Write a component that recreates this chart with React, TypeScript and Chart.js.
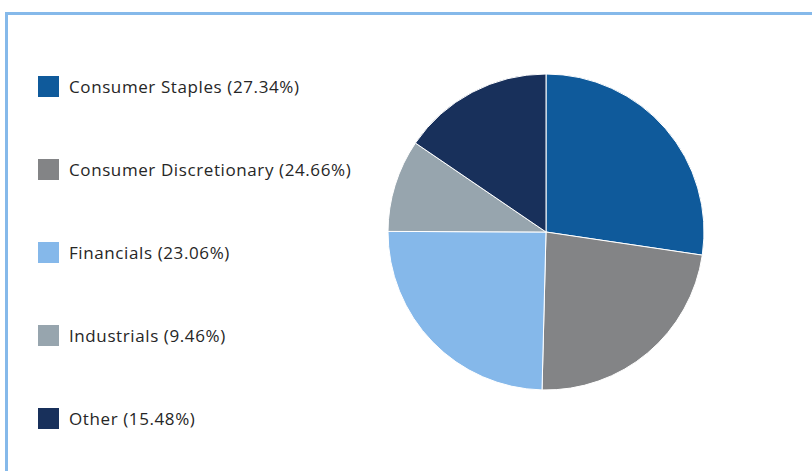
import React, { useEffect, useRef } from "react";
import { Chart, registerables } from "chart.js";

Chart.register(...registerables);

const categories = [
  "Consumer Staples",
  "Consumer Discretionary",
  "Financials",
  "Industrials",
  "Other",
];
// percentages as printed in the legend
const legendShares = ["27.34", "24.66", "23.06", "9.46", "15.48"];
// slice sizes as drawn in the pie
const sliceValues = [27.34, 23.06, 24.66, 9.46, 15.48];
const colors = ["#0F5A9B", "#838486", "#85B8EA", "#97A5AE", "#18305B"];

export default function App() {
  const ref = useRef<HTMLCanvasElement | null>(null);

  useEffect(() => {
    document.body.style.margin = "0";
    const chart = new Chart(ref.current!, {
      type: "pie",
      data: {
        labels: categories,
        datasets: [
          {
            data: sliceValues,
            backgroundColor: colors,
            borderColor: "#ffffff",
            borderWidth: 1,
          },
        ],
      },
      options: {
        animation: false,
        responsive: false,
        layout: { padding: 7.5 },
        plugins: {
          legend: { display: false },
          tooltip: { enabled: false },
        },
      },
    });
    return () => chart.destroy();
  }, []);

  return (
    <div
      style={{
        position: "relative",
        width: 812,
        height: 471,
        overflow: "hidden",
        background: "#fff",
        fontFamily: "'Open Sans', Lato, sans-serif",
      }}
    >
      <div
        style={{
          position: "absolute",
          left: 5,
          top: 12,
          width: 900,
          height: 600,
          border: "3px solid #85B9EA",
          boxSizing: "border-box",
        }}
      />
      <div
        style={{
          position: "absolute",
          left: 38,
          top: 76,
          display: "flex",
          flexDirection: "column",
          gap: 62,
        }}
      >
        {categories.map((c, i) => (
          <div
            key={c}
            style={{ display: "flex", alignItems: "center", height: 21 }}
          >
            <span
              style={{
                width: 21,
                height: 21,
                background: colors[i],
                display: "inline-block",
                marginRight: 10,
                flexShrink: 0,
              }}
            />
            <span
              style={{
                fontSize: 17,
                letterSpacing: 0.6,
                color: "#262626",
                whiteSpace: "nowrap",
              }}
            >
              {c} ({legendShares[i]}%)
            </span>
          </div>
        ))}
      </div>
      <canvas
        ref={ref}
        width={332}
        height={332}
        style={{ position: "absolute", left: 380, top: 66, width: 332, height: 332 }}
      />
    </div>
  );
}
